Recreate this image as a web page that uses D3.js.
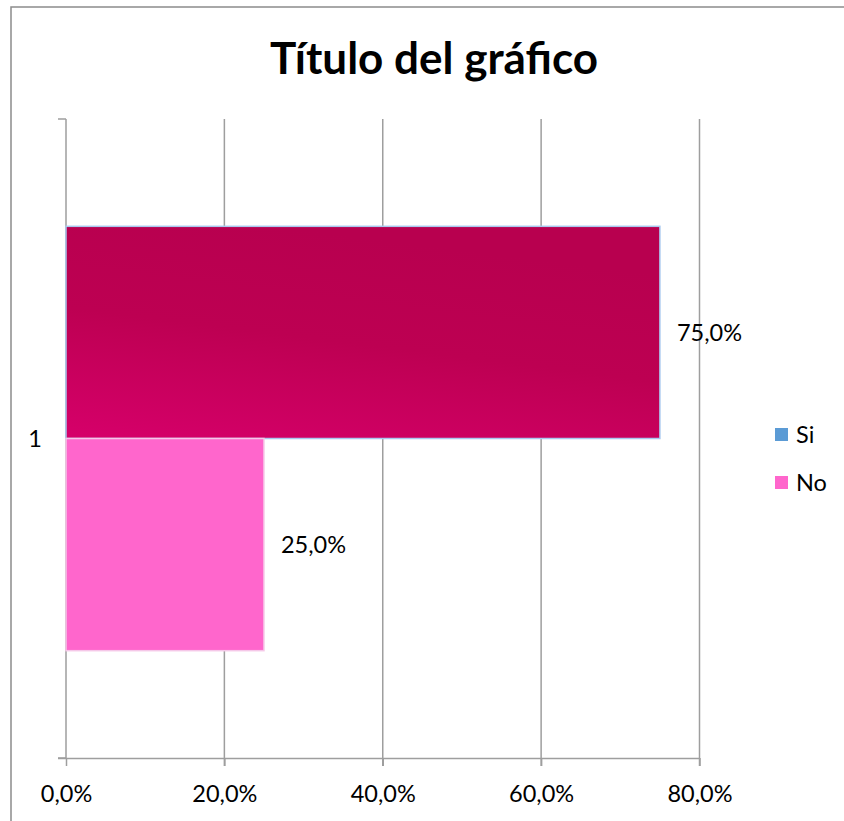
<!DOCTYPE html>
<html>
<head>
<meta charset="utf-8">
<script src="https://cdn.jsdelivr.net/npm/d3@7/dist/d3.min.js"></script>
<style>
  html, body { margin: 0; padding: 0; background: #fff; overflow: hidden; }
  svg { display: block; font-family: Lato, "Open Sans", sans-serif; }
</style>
</head>
<body>
<svg id="chart" width="844" height="821"></svg>
<script>
// Chart data
const categories = ["1"];
const seriesNames = ["Si", "No"];
const siValues = [0.75];
const noValues = [0.25];
const xTicks = [0, 0.2, 0.4, 0.6, 0.8];
const chartTitle = "Título del gráfico";

const svg = d3.select("#chart");
const W = 844, H = 821;
const margin = { left: 66, right: 144.5, top: 119, bottom: 63 };
const labelSize = 23.5;

// Outer frame (runs past the right and bottom edges of the page)
svg.append("rect")
  .attr("x", 11).attr("y", 7)
  .attr("width", 840).attr("height", 830)
  .attr("fill", "#fff")
  .attr("stroke", "#8c8c8c").attr("stroke-width", 1.5);

// Gradient for the "Si" bars
const defs = svg.append("defs");
const grad = defs.append("linearGradient")
  .attr("id", "siGrad")
  .attr("x1", "0").attr("y1", "1").attr("x2", "0.35").attr("y2", "0");
grad.append("stop").attr("offset", "0%").attr("stop-color", "#d6006a");
grad.append("stop").attr("offset", "55%").attr("stop-color", "#bd0052");
grad.append("stop").attr("offset", "100%").attr("stop-color", "#b8004f");

const x = d3.scaleLinear().domain([0, 0.8]).range([margin.left, W - margin.right]);
const y = d3.scaleBand().domain(categories).range([margin.top, H - margin.bottom]);
const inner = d3.scaleBand().domain(seriesNames).range([0, y.bandwidth()]).paddingOuter(0.5058);

const fmt = v => d3.format(".1f")(v * 100).replace(".", ",") + "%";

// Vertical gridlines
svg.append("g")
  .selectAll("line")
  .data(xTicks.filter(t => t > 0))
  .join("line")
  .attr("x1", d => x(d)).attr("x2", d => x(d))
  .attr("y1", margin.top).attr("y2", H - margin.bottom + 8)
  .attr("stroke", "#9e9e9e").attr("stroke-width", 1.5);

// X axis
const xAxis = svg.append("g")
  .attr("transform", `translate(0,${H - margin.bottom})`)
  .call(d3.axisBottom(x).tickValues(xTicks).tickFormat(fmt).tickSize(8).tickPadding(19));
xAxis.select(".domain").attr("stroke", "#9e9e9e").attr("stroke-width", 1.5)
  .attr("d", `M${margin.left - 8},0.5H${x(0.8)}`);
xAxis.selectAll(".tick line").attr("stroke", "#9e9e9e").attr("stroke-width", 1.5);
xAxis.selectAll(".tick text").attr("font-size", labelSize).attr("fill", "#000")
  .attr("font-family", "Lato, 'Open Sans', sans-serif");

// Y axis with boundary ticks
const yAxis = svg.append("g").attr("transform", `translate(${margin.left},0)`);
yAxis.append("line")
  .attr("x1", 0).attr("x2", 0)
  .attr("y1", margin.top).attr("y2", H - margin.bottom)
  .attr("stroke", "#9e9e9e").attr("stroke-width", 1.5);
yAxis.selectAll(".bound")
  .data([y.range()[0], y.range()[1]])
  .join("line")
  .attr("x1", -8).attr("x2", 0)
  .attr("y1", d => d).attr("y2", d => d)
  .attr("stroke", "#9e9e9e").attr("stroke-width", 1.5);
yAxis.selectAll(".cat")
  .data(categories)
  .join("text")
  .attr("x", -24).attr("y", d => y(d) + y.bandwidth() / 2)
  .attr("dy", "0.35em")
  .attr("text-anchor", "end")
  .attr("font-size", labelSize)
  .text(d => d);

// Bars
const barData = categories.flatMap((c, i) => [
  { cat: c, series: "Si", value: siValues[i] },
  { cat: c, series: "No", value: noValues[i] }
]);

svg.append("g")
  .selectAll("rect")
  .data(barData)
  .join("rect")
  .attr("x", x(0))
  .attr("y", d => y(d.cat) + inner(d.series))
  .attr("width", d => x(d.value) - x(0))
  .attr("height", inner.bandwidth())
  .attr("fill", d => d.series === "Si" ? "url(#siGrad)" : "#ff66cc")
  .attr("stroke", d => d.series === "Si" ? "#a9c8ee" : "#f5c8e8")
  .attr("stroke-width", 1.5);

// Value labels
svg.append("g")
  .selectAll("text")
  .data(barData)
  .join("text")
  .attr("x", d => x(d.value) + 17)
  .attr("y", d => y(d.cat) + inner(d.series) + inner.bandwidth() / 2)
  .attr("dy", "0.35em")
  .attr("font-size", labelSize)
  .attr("fill", "#000")
  .text(d => fmt(d.value));

// Title
svg.append("text")
  .attr("x", 434).attr("y", 74)
  .attr("text-anchor", "middle")
  .attr("font-size", 44)
  .attr("font-weight", "bold")
  .text(chartTitle);

// Legend
const legendColors = { Si: "#5b9bd5", No: "#ff66cc" };
const legend = svg.append("g").attr("transform", "translate(775,428)");
const item = legend.selectAll("g")
  .data(seriesNames)
  .join("g")
  .attr("transform", (d, i) => `translate(0,${i * 48})`);
item.append("rect")
  .attr("width", 13).attr("height", 13)
  .attr("fill", d => legendColors[d]);
item.append("text")
  .attr("x", 21).attr("y", 6.5).attr("dy", "0.35em")
  .attr("font-size", labelSize)
  .text(d => d);
</script>
</body>
</html>
